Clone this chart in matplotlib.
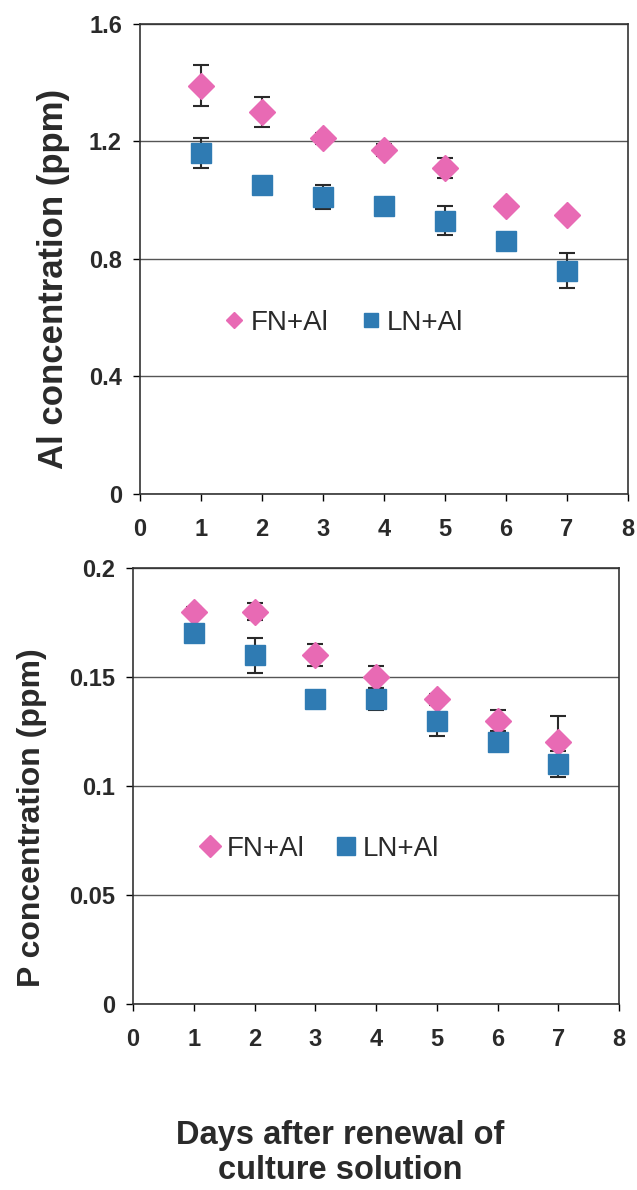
import numpy as np
import matplotlib.pyplot as plt

plt.rcParams['font.family'] = ['Liberation Sans', 'DejaVu Sans']

days = [1, 2, 3, 4, 5, 6, 7]

# Al concentration (ppm)
al_fn = [1.39, 1.30, 1.21, 1.17, 1.11, 0.98, 0.95]
al_fn_err = [0.07, 0.05, 0.02, 0.02, 0.035, 0.01, 0.01]
al_ln = [1.16, 1.05, 1.01, 0.98, 0.93, 0.86, 0.76]
al_ln_err = [0.05, 0.01, 0.04, 0.01, 0.05, 0.01, 0.06]

# P concentration (ppm)
p_fn = [0.18, 0.18, 0.16, 0.15, 0.14, 0.13, 0.12]
p_fn_err = [0.002, 0.004, 0.005, 0.005, 0.002, 0.005, 0.012]
p_ln = [0.17, 0.16, 0.14, 0.14, 0.13, 0.12, 0.11]
p_ln_err = [0.002, 0.008, 0.002, 0.005, 0.007, 0.002, 0.006]

pink = '#E86AB4'
blue = '#2F7BB3'
dark = '#2a2a2a'


def draw_panel(ax, fn, fn_err, ln, ln_err, ylim, yticks, ylabel, ylab_size,
               ylab_pos, leg_pos, leg_scale):
    ax.errorbar(days, fn, yerr=fn_err, fmt='none', ecolor=dark,
                elinewidth=1.5, capsize=6, capthick=1.5, zorder=2)
    ax.errorbar(days, ln, yerr=ln_err, fmt='none', ecolor=dark,
                elinewidth=1.5, capsize=6, capthick=1.5, zorder=2)
    ax.plot(days, fn, linestyle='none', marker='D', markersize=13,
            color=pink, label='FN+Al', zorder=3)
    ax.plot(days, ln, linestyle='none', marker='s', markersize=15,
            color=blue, label='LN+Al', zorder=3)
    ax.set_xlim(0, 8)
    ax.set_ylim(*ylim)
    ax.set_xticks(range(0, 9))
    ax.set_yticks(yticks)
    ax.set_yticklabels([('%g' % t) for t in yticks])
    ax.yaxis.grid(True, color='#555555', linewidth=1)
    ax.set_axisbelow(True)
    for s in ax.spines.values():
        s.set_color('#333333')
        s.set_linewidth(1.2)
    ax.tick_params(axis='both', labelsize=17, width=1, length=5)
    ax.tick_params(axis='x', pad=12)
    ax.tick_params(axis='y', pad=8)
    for lab in ax.get_xticklabels() + ax.get_yticklabels():
        lab.set_fontweight('bold')
        lab.set_color(dark)
    ax.set_ylabel(ylabel, fontsize=ylab_size, fontweight='bold', color=dark,
                  va='center')
    ax.yaxis.set_label_coords(*ylab_pos)
    leg = ax.legend(loc='center', bbox_to_anchor=leg_pos, ncol=2, frameon=False,
                    fontsize=20, handletextpad=0.1, columnspacing=1.0,
                    markerscale=leg_scale, handlelength=1.0)
    for t in leg.get_texts():
        t.set_color(dark)


fig = plt.figure(figsize=(6.37, 11.9), dpi=100)

ax1 = fig.add_axes([0.2198, 0.5849, 0.766, 0.395])
draw_panel(ax1, al_fn, al_fn_err, al_ln, al_ln_err, (0, 1.6),
           [0, 0.4, 0.8, 1.2, 1.6], 'Al concentration (ppm)', 25,
           (-0.178, 0.457), (0.414, 0.364), 0.65)

ax2 = fig.add_axes([0.2088, 0.1563, 0.763, 0.3664])
draw_panel(ax2, p_fn, p_fn_err, p_ln, p_ln_err, (0, 0.2),
           [0, 0.05, 0.1, 0.15, 0.2], 'P concentration (ppm)', 23,
           (-0.208, 0.427), (0.38, 0.355), 0.85)

fig.text(0.534, 0.031, 'Days after renewal of\nculture solution', ha='center',
         va='center', fontsize=23.5, fontweight='bold', color=dark,
         linespacing=1.15)

fig.savefig('out.png', dpi=100)
